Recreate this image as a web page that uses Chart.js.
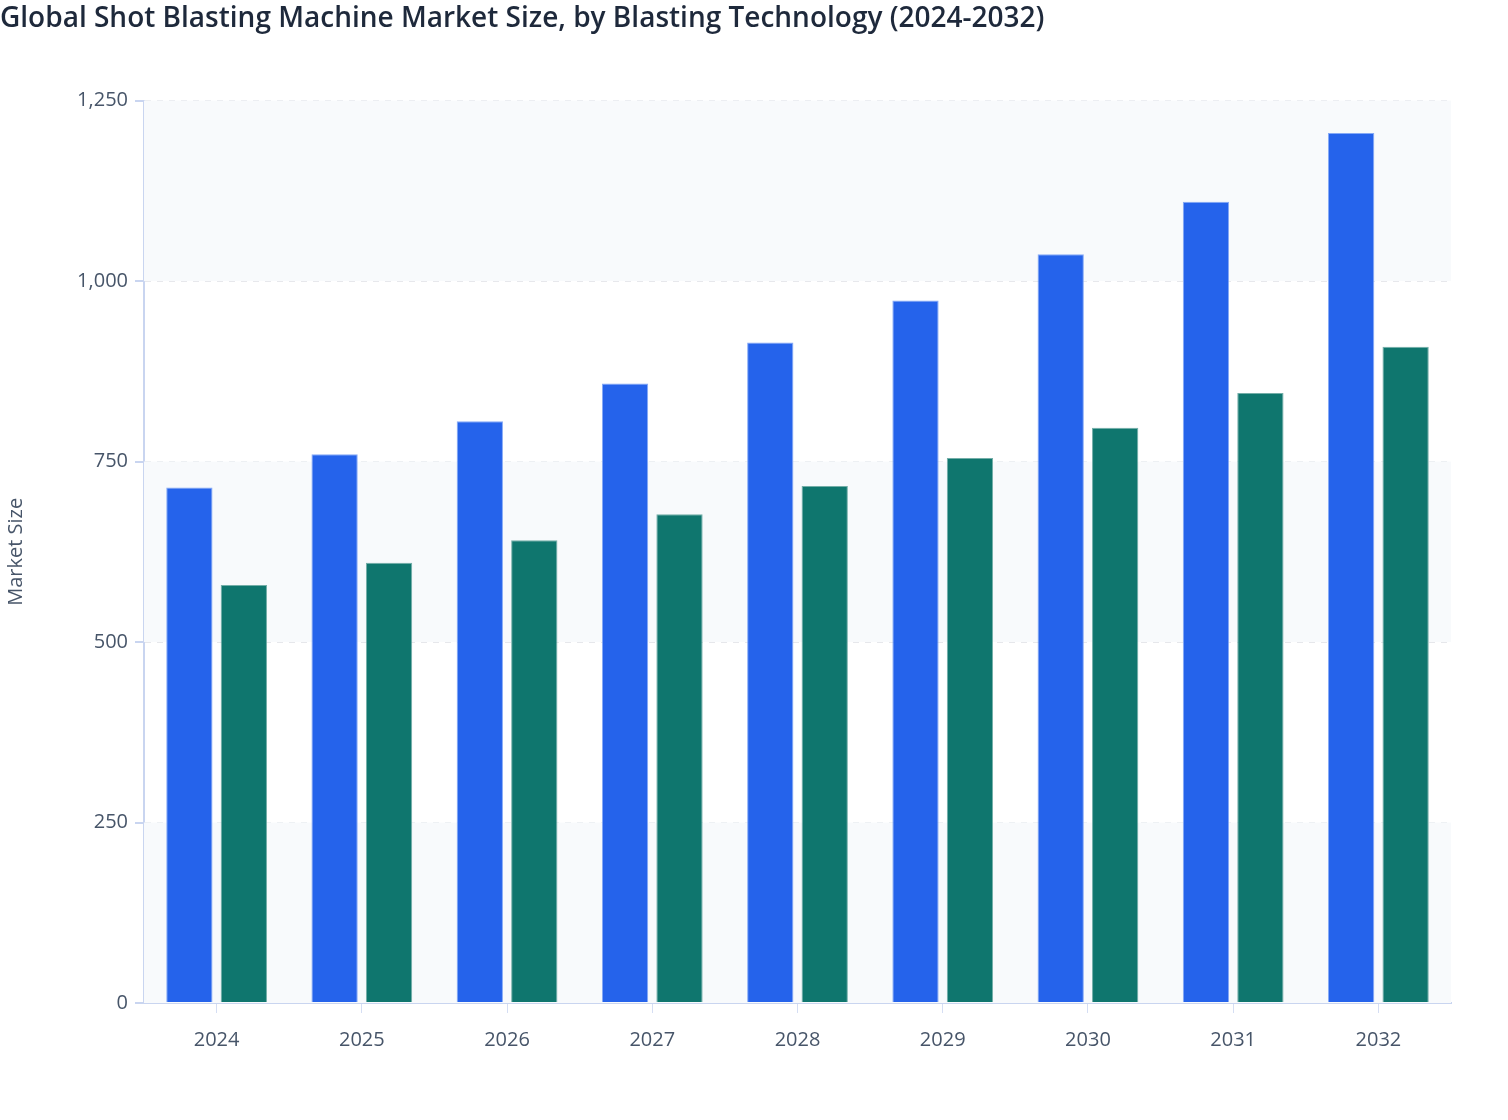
<!DOCTYPE html>
<html>
<head>
<meta charset="utf-8">
<script src="https://cdn.jsdelivr.net/npm/chart.js@4/dist/chart.umd.min.js"></script>
<style>
  html, body { margin: 0; padding: 0; background: #ffffff; }
  #wrap { width: 1508px; height: 1120px; position: relative; }
</style>
</head>
<body>
<div id="wrap"><canvas id="c"></canvas></div>
<script>
const years = ['2024', '2025', '2026', '2027', '2028', '2029', '2030', '2031', '2032'];
const wheelBlasting = [714, 760, 806, 858, 915, 973, 1037, 1110, 1205];
const airBlasting = [579, 610, 641, 677, 716, 755, 797, 845, 909];
const seriesNames = ['Wheel Blasting', 'Air Blasting'];
const yTicks = [0, 250, 500, 750, 1000, 1250];
const shadedBands = [[0, 250], [500, 750], [1000, 1250]];

const FONT = "'Open Sans', 'Noto Sans', sans-serif";

const bandPlugin = {
  id: 'bands',
  beforeDatasetsDraw(chart) {
    const { ctx, chartArea, scales } = chart;
    const y = scales.y;
    ctx.save();
    ctx.fillStyle = '#f8fafc';
    shadedBands.forEach(([a, b]) => {
      const top = y.getPixelForValue(b);
      const bot = y.getPixelForValue(a);
      ctx.fillRect(chartArea.left, top, chartArea.right - chartArea.left, bot - top);
    });
    ctx.restore();
  }
};

new Chart(document.getElementById('c'), {
  type: 'bar',
  data: {
    labels: years,
    datasets: [
      {
        label: seriesNames[0],
        data: wheelBlasting,
        backgroundColor: '#2563eb',
        borderColor: 'rgba(120,160,245,0.9)',
        borderWidth: { top: 1, left: 1, right: 1, bottom: 0 },
        categoryPercentage: 0.75,
        barPercentage: 0.85
      },
      {
        label: seriesNames[1],
        data: airBlasting,
        backgroundColor: '#0f766e',
        borderColor: 'rgba(100,165,158,0.9)',
        borderWidth: { top: 1, left: 1, right: 1, bottom: 0 },
        categoryPercentage: 0.75,
        barPercentage: 0.85
      }
    ]
  },
  options: {
    responsive: true,
    maintainAspectRatio: false,
    animation: false,
    layout: { padding: { left: 0, right: 57, top: 0, bottom: 0 } },
    plugins: {
      legend: { display: false },
      tooltip: { enabled: false },
      title: {
        display: true,
        text: 'Global Shot Blasting Machine Market Size, by Blasting Technology (2024-2032)',
        align: 'start',
        color: '#1e293b',
        font: { family: FONT, size: 28, weight: '600' },
        padding: { top: 2, bottom: 65 }
      }
    },
    scales: {
      x: {
        grid: {
          display: true,
          drawOnChartArea: false,
          drawTicks: true,
          tickLength: 10,
          tickColor: '#d5def3',
          offset: false
        },
        border: { display: true, color: '#c9d5f0', width: 2 },
        ticks: {
          color: '#475569',
          font: { family: FONT, size: 20 },
          padding: 15
        },
        afterFit(scale) { scale.height = 117; }
      },
      y: {
        min: 0,
        max: 1250,
        afterBuildTicks(scale) { scale.ticks = yTicks.map(v => ({ value: v })); },
        grid: {
          color: '#e5e7eb',
          lineWidth: 2,
          drawTicks: true,
          tickLength: 9,
          tickColor: '#c9d5f0'
        },
        border: { display: true, color: '#c9d5f0', width: 2, dash: [6, 6] },
        ticks: {
          color: '#475569',
          font: { family: FONT, size: 20 },
          padding: 7,
          callback: v => v.toLocaleString('en-US')
        },
        title: {
          display: true,
          text: 'Market Size',
          color: '#475569',
          font: { family: FONT, size: 20 },
          padding: { top: 4, bottom: 0 }
        },
        afterFit(scale) { scale.width = 144; }
      }
    }
  },
  plugins: [bandPlugin]
});
</script>
</body>
</html>
